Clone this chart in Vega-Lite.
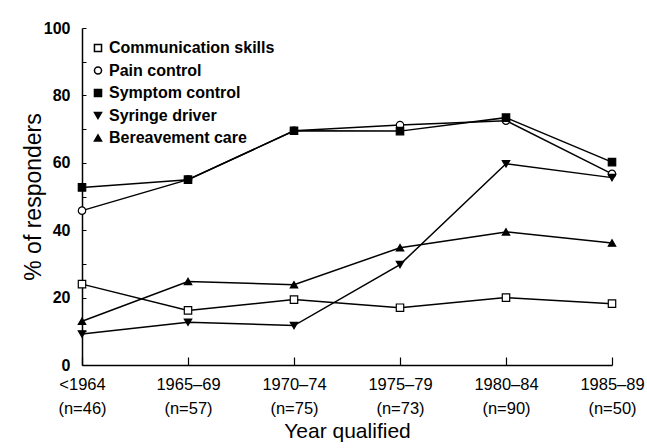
{
  "$schema": "https://vega.github.io/schema/vega-lite/v6.json",
  "width": 530,
  "height": 337,
  "autosize": {"type": "none"},
  "padding": {"left": 82, "top": 28, "right": 35, "bottom": 83},
  "background": "white",
  "config": {"font": "Liberation Sans", "view": {"stroke": null}},
  "data": {"values": [
    {"period": "<1964", "series": "Communication skills", "value": 24.0},
    {"period": "1965–69", "series": "Communication skills", "value": 16.2},
    {"period": "1970–74", "series": "Communication skills", "value": 19.4},
    {"period": "1975–79", "series": "Communication skills", "value": 17.0},
    {"period": "1980–84", "series": "Communication skills", "value": 20.0},
    {"period": "1985–89", "series": "Communication skills", "value": 18.2},
    {"period": "<1964", "series": "Pain control", "value": 45.8},
    {"period": "1965–69", "series": "Pain control", "value": 55.0},
    {"period": "1970–74", "series": "Pain control", "value": 69.5},
    {"period": "1975–79", "series": "Pain control", "value": 71.2},
    {"period": "1980–84", "series": "Pain control", "value": 72.5},
    {"period": "1985–89", "series": "Pain control", "value": 56.7},
    {"period": "<1964", "series": "Symptom control", "value": 52.7},
    {"period": "1965–69", "series": "Symptom control", "value": 55.0},
    {"period": "1970–74", "series": "Symptom control", "value": 69.5},
    {"period": "1975–79", "series": "Symptom control", "value": 69.4},
    {"period": "1980–84", "series": "Symptom control", "value": 73.4},
    {"period": "1985–89", "series": "Symptom control", "value": 60.2},
    {"period": "<1964", "series": "Syringe driver", "value": 9.2},
    {"period": "1965–69", "series": "Syringe driver", "value": 12.7},
    {"period": "1970–74", "series": "Syringe driver", "value": 11.7},
    {"period": "1975–79", "series": "Syringe driver", "value": 29.8},
    {"period": "1980–84", "series": "Syringe driver", "value": 59.7},
    {"period": "1985–89", "series": "Syringe driver", "value": 55.6},
    {"period": "<1964", "series": "Bereavement care", "value": 13.0},
    {"period": "1965–69", "series": "Bereavement care", "value": 24.8},
    {"period": "1970–74", "series": "Bereavement care", "value": 23.8},
    {"period": "1975–79", "series": "Bereavement care", "value": 34.8},
    {"period": "1980–84", "series": "Bereavement care", "value": 39.5},
    {"period": "1985–89", "series": "Bereavement care", "value": 36.2}
  ]},
  "encoding": {
    "x": {
      "field": "period", "type": "ordinal",
      "sort": ["<1964", "1965–69", "1970–74", "1975–79", "1980–84", "1985–89"],
      "scale": {"type": "point", "padding": 0},
      "axis": {
        "title": "Year qualified", "titleFontSize": 21, "titleFontWeight": "normal", "titleColor": "black", "titlePadding": 4,
        "labelAngle": 0, "labelFontSize": 16.5, "labelColor": "black", "labelPadding": 19, "labelBaseline": "top", "labelLineHeight": 24,
        "labelExpr": "[datum.label, '(n=' + {'<1964': 46, '1965–69': 57, '1970–74': 75, '1975–79': 73, '1980–84': 90, '1985–89': 50}[datum.value] + ')']",
        "tickSize": -8, "tickColor": "black", "domainColor": "black", "domainWidth": 1.5, "tickWidth": 1.2, "grid": false
      }
    },
    "y": {
      "field": "value", "type": "quantitative",
      "scale": {"domain": [0, 100]},
      "axis": {
        "title": "% of responders", "titleFontSize": 23, "titleFontWeight": "normal", "titleColor": "black", "titlePadding": -2,
        "values": [0, 10, 20, 30, 40, 50, 60, 70, 80, 90, 100],
        "labelExpr": "datum.value % 20 == 0 ? datum.label : ''",
        "labelFontSize": 16, "labelFontWeight": "bold", "labelColor": "black", "labelPadding": 16,
        "tickSize": -4, "tickColor": "black", "domainColor": "black", "domainWidth": 1.5, "grid": false
      }
    }
  },
  "layer": [
    {
      "mark": {"type": "line", "color": "black", "strokeWidth": 1.5},
      "encoding": {"detail": {"field": "series"}}
    },
    {
      "mark": {"type": "point", "strokeWidth": 1.2, "opacity": 1, "size": 55},
      "encoding": {
        "shape": {
          "field": "series",
          "scale": {"domain": ["Communication skills", "Pain control", "Symptom control", "Syringe driver", "Bereavement care"], "range": ["square", "circle", "square", "triangle-down", "triangle-up"]},
          "legend": {"title": null, "orient": "none", "legendX": 8, "legendY": 12, "padding": 0, "labelFontSize": 16, "labelFontWeight": "bold", "labelColor": "black", "labelLimit": 400, "symbolStrokeColor": "black", "symbolSize": 50, "rowPadding": 6.5, "labelOffset": 3}
        },
        "fill": {
          "field": "series",
          "scale": {"domain": ["Communication skills", "Pain control", "Symptom control", "Syringe driver", "Bereavement care"], "range": ["white", "white", "black", "black", "black"]},
          "legend": {"title": null, "orient": "none", "legendX": 8, "legendY": 12, "padding": 0, "labelFontSize": 16, "labelFontWeight": "bold", "labelColor": "black", "labelLimit": 400, "symbolStrokeColor": "black", "symbolSize": 50, "rowPadding": 6.5, "labelOffset": 3}
        },
        "stroke": {
          "field": "series",
          "scale": {"domain": ["Communication skills", "Pain control", "Symptom control", "Syringe driver", "Bereavement care"], "range": ["black", "black", "black", "black", "black"]},
          "legend": {"title": null, "orient": "none", "legendX": 8, "legendY": 12, "padding": 0, "labelFontSize": 16, "labelFontWeight": "bold", "labelColor": "black", "labelLimit": 400, "symbolStrokeColor": "black", "symbolSize": 50, "rowPadding": 6.5, "labelOffset": 3}
        }
      }
    }
  ]
}
